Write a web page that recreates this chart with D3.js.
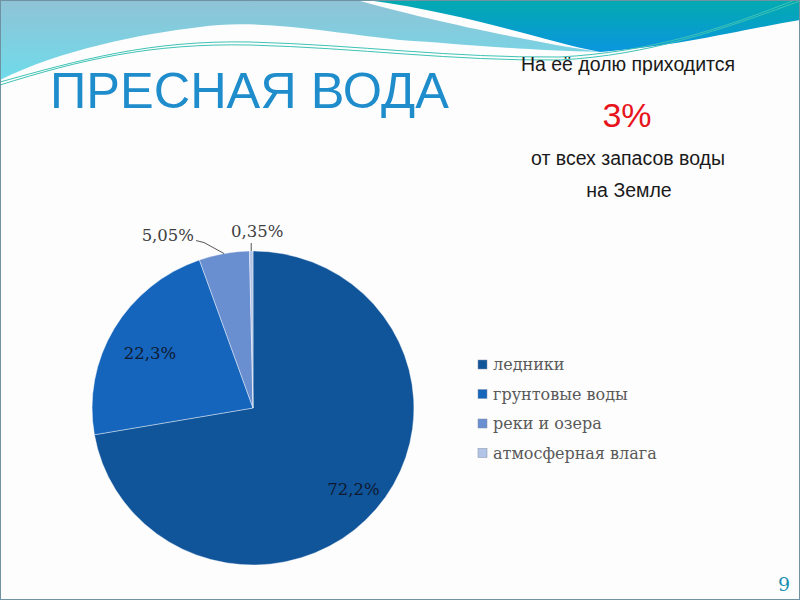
<!DOCTYPE html>
<html>
<head>
<meta charset="utf-8">
<script src="https://cdn.jsdelivr.net/npm/d3@7"></script>
<style>
  body { margin: 0; background: #fff; }
</style>
</head>
<body>
<div id="chart-area"></div>
<script>
// data
var categories = ['ледники', 'грунтовые воды', 'реки и озера', 'атмосферная влага'];
var values = [72.2, 22.3, 5.05, 0.35];
var valueLabels = ['72,2%', '22,3%', '5,05%', '0,35%'];
var colors = ['#10549a', '#1565bd', '#6a8fd0', '#b3c5e6'];

var width = 800, height = 600;

var svg = d3.select('#chart-area')
  .append('svg')
  .attr('width', width)
  .attr('height', height);

var defs = svg.append('defs');
var lg = defs.append('linearGradient').attr('id', 'lightBand')
  .attr('x1', 0).attr('y1', 0).attr('x2', 0).attr('y2', 1);
lg.append('stop').attr('offset', '0%').attr('stop-color', '#8fc3d6');
lg.append('stop').attr('offset', '100%').attr('stop-color', '#6fdbea');
var dg = defs.append('linearGradient').attr('id', 'darkBand')
  .attr('x1', 0).attr('y1', 0).attr('x2', 0).attr('y2', 1);
dg.append('stop').attr('offset', '0%').attr('stop-color', '#03aab0');
dg.append('stop').attr('offset', '100%').attr('stop-color', '#0a96de');

// background
svg.append('rect')
  .attr('width', width).attr('height', height)
  .attr('fill', '#fdfdfd');

// header waves
svg.append('path')
  .attr('d', 'M0,0 H357 C420,18 520,40 600,52 C520,50 460,44 400,40 C340,34 260,18 200,27 C140,34 60,50 0,80 Z')
  .attr('fill', 'url(#lightBand)');
svg.append('path')
  .attr('d', 'M367,0 H800 V20 C740,30 680,46 600,52 C540,40 470,14 367,0 Z')
  .attr('fill', 'url(#darkBand)');

// thin lines
[0, 3].forEach(function (o) {
  svg.append('path')
    .attr('d', 'M0,' + (82 + o) + ' C80,60 150,' + (40 + o) + ' 250,' + (42 + o) +
      ' C360,' + (45 + o) + ' 450,' + (58 + o) + ' 560,' + (57 + o) + ' C650,' + (52 + o) + ' 720,30 800,' + (o - 2))
    .attr('fill', 'none')
    .attr('stroke', '#3ec3b6')
    .attr('stroke-width', 1);
});

// slide border
svg.append('rect')
  .attr('x', 0.5).attr('y', 0.5)
  .attr('width', width - 1).attr('height', height - 1)
  .attr('fill', 'none')
  .attr('stroke', '#6f93a3')
  .attr('stroke-width', 1);

// title
svg.append('text')
  .attr('x', 50)
  .attr('y', 108)
  .attr('font-family', 'Liberation Sans, Arial, sans-serif')
  .attr('font-size', '50.5px')
  .attr('fill', '#1f8dcc')
  .text('ПРЕСНАЯ ВОДА');

// right note
var note = svg.append('g')
  .attr('font-family', 'Liberation Sans, Arial, sans-serif')
  .attr('text-anchor', 'middle');
note.append('text').attr('x', 628).attr('y', 71).attr('font-size', '19.5px')
  .attr('fill', '#1a1a1a').text('На её долю приходится');
note.append('text').attr('x', 627).attr('y', 127).attr('font-size', '34px')
  .attr('fill', '#e8141c').text('3%');
note.append('text').attr('x', 628).attr('y', 165).attr('font-size', '19.5px')
  .attr('fill', '#1a1a1a').text('от всех запасов воды');
note.append('text').attr('x', 629).attr('y', 197).attr('font-size', '19.5px')
  .attr('fill', '#1a1a1a').text('на Земле');

// pie
var cx = 253, cy = 408, r = 157, sx = 1.025;
var pie = d3.pie().sort(null).value(function (d) { return d; });
var arcs = pie(values);
var arc = d3.arc().innerRadius(0).outerRadius(r);
var labelArc = d3.arc().innerRadius(r * 0.8).outerRadius(r * 0.8);

var pg = svg.append('g')
  .attr('transform', 'translate(' + cx + ',' + cy + ') scale(' + sx + ',1)');

pg.selectAll('path')
  .data(arcs)
  .enter()
  .append('path')
  .attr('d', arc)
  .attr('fill', function (d, i) { return colors[i]; })
  .attr('stroke', '#ffffff')
  .attr('stroke-width', 0.4);

var labelFont = 'DejaVu Serif, serif';

// inside labels
arcs.slice(0, 2).forEach(function (d, i) {
  var c = labelArc.centroid(d);
  svg.append('text')
    .attr('x', cx + c[0] * sx + (i === 0 ? 2 : 8))
    .attr('y', cy + c[1] + (i === 0 ? 6 : 14))
    .attr('text-anchor', 'middle')
    .attr('font-family', labelFont)
    .attr('font-size', '16.5px')
    .attr('fill', '#0f1a30')
    .text(valueLabels[i]);
});

// outside labels with leader lines
var outer = d3.arc().innerRadius(r).outerRadius(r);
[2, 3].forEach(function (i) {
  var p = outer.centroid(arcs[i]);
  var px = cx + p[0] * sx, py = cy + p[1];
  if (i === 2) {
    svg.append('path')
      .attr('d', 'M' + px + ',' + py + ' L' + (px - 20) + ',' + (py - 11) + ' L' + (px - 28) + ',' + (py - 13))
      .attr('fill', 'none').attr('stroke', '#555').attr('stroke-width', 1);
    svg.append('text')
      .attr('x', px - 30).attr('y', py - 13)
      .attr('text-anchor', 'end')
      .attr('font-family', labelFont).attr('font-size', '16.5px')
      .attr('fill', '#404040')
      .text(valueLabels[i]);
  } else {
    svg.append('path')
      .attr('d', 'M' + px + ',' + py + ' L' + px + ',' + (py - 8))
      .attr('fill', 'none').attr('stroke', '#555').attr('stroke-width', 1);
    svg.append('text')
      .attr('x', px + 6).attr('y', py - 14)
      .attr('text-anchor', 'middle')
      .attr('font-family', labelFont).attr('font-size', '16.5px')
      .attr('fill', '#404040')
      .text(valueLabels[i]);
  }
});

// legend
var legend = svg.append('g').attr('transform', 'translate(478, 360)');
var rows = legend.selectAll('g')
  .data(categories)
  .enter()
  .append('g')
  .attr('transform', function (d, i) { return 'translate(0,' + (i * 29.5) + ')'; });
rows.append('rect')
  .attr('width', 9).attr('height', 9)
  .attr('fill', function (d, i) { return colors[i]; })
  .attr('stroke', '#7f8fa6').attr('stroke-width', 0.5);
rows.append('text')
  .attr('x', 15).attr('y', 10)
  .attr('font-family', labelFont)
  .attr('font-size', '16px')
  .attr('fill', '#595959')
  .text(function (d) { return d; });

// page number
svg.append('text')
  .attr('x', 790).attr('y', 591)
  .attr('text-anchor', 'end')
  .attr('font-family', 'DejaVu Serif, serif')
  .attr('font-size', '19px')
  .attr('fill', '#1b8fb0')
  .text('9');
</script>
</body>
</html>
